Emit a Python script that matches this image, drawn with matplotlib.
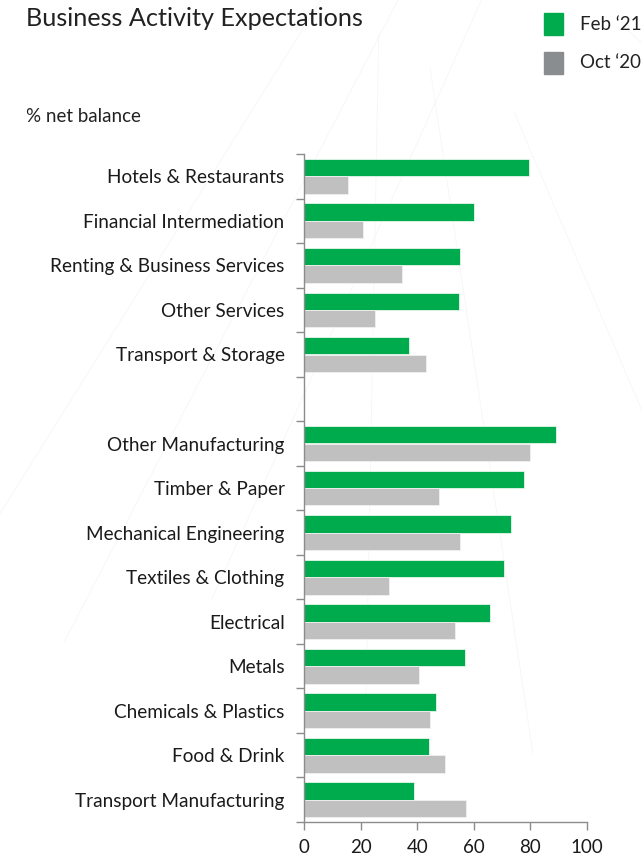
import numpy as np
import matplotlib
matplotlib.use("Agg")
import matplotlib.pyplot as plt

plt.rcParams['font.family'] = ['Lato', 'DejaVu Sans']

# categories top to bottom, None = blank gap row
categories = ['Hotels & Restaurants', 'Financial Intermediation',
              'Renting & Business Services', 'Other Services',
              'Transport & Storage', None,
              'Other Manufacturing', 'Timber & Paper', 'Mechanical Engineering',
              'Textiles & Clothing', 'Electrical', 'Metals',
              'Chemicals & Plastics', 'Food & Drink', 'Transport Manufacturing']
feb21 = [79.5, 60, 55, 54.8, 37.2, None,
         89.2, 77.7, 73.3, 70.6, 65.6, 57, 46.6, 44, 39]
oct20 = [15.5, 20.7, 34.8, 25, 43, None,
         80, 47.8, 55.3, 30, 53.5, 40.5, 44.5, 50, 57.4]

green = '#00ab4e'
grey_bar = '#c0c0c0'
grey_leg = '#8a8d90'
axcol = '#8c8c8c'

fig = plt.figure(figsize=(6.42, 8.56), dpi=100)

# faint decorative background lines
bg = fig.add_axes([0, 0, 1, 1], zorder=-1)
bg.set_xlim(0, 1)
bg.set_ylim(0, 1)
bg.axis('off')
for (xa, ya, xb, yb) in [(0.0, 0.40, 0.50, 1.0), (0.10, 0.25, 0.62, 1.0),
                         (0.33, 0.30, 0.75, 1.0), (0.57, 0.18, 0.59, 0.96),
                         (0.67, 0.92, 0.83, 0.12), (0.80, 0.87, 1.0, 0.52),
                         (0.97, 0.97, 1.0, 0.95)]:
    bg.plot([xa, xb], [ya, yb], color='#f6f6f6', lw=0.6)

ax = fig.add_axes([0.4735, 0.0397, 0.4408, 0.7803])
rows = np.arange(len(categories)) + 0.5
h = 0.39
for i, c in enumerate(categories):
    if c is None:
        continue
    ax.barh(rows[i] - 0.196, feb21[i], height=h, color=green,
            edgecolor='#e6f5ec', linewidth=0.6)
    ax.barh(rows[i] + 0.196, oct20[i], height=h, color=grey_bar,
            edgecolor='#f0f0f0', linewidth=0.6)

ax.set_ylim(len(categories), 0)
ax.set_xlim(0, 100)
ax.set_yticks([r for r, c in zip(rows, categories) if c is not None])
ax.set_yticklabels([c for c in categories if c is not None], fontsize=13.7, color='#1a1a1a')
ax.set_yticks(np.arange(len(categories) + 1), minor=True)
ax.tick_params(axis='y', which='major', length=0, pad=14)
ax.tick_params(axis='y', which='minor', length=6, color=axcol, width=1)
ax.set_xticks(np.arange(0, 101, 20))
ax.tick_params(axis='x', length=6, color=axcol, width=1, labelsize=13.5,
               labelcolor='#1a1a1a', pad=6)
for s in ['top', 'right']:
    ax.spines[s].set_visible(False)
for s in ['left', 'bottom']:
    ax.spines[s].set_color(axcol)
    ax.spines[s].set_linewidth(1)
ax.set_facecolor('none')

fig.text(26 / 642, 1 - 18 / 856, 'Business Activity Expectations', fontsize=18.2,
         color='#222222', va='center', ha='left')
fig.text(26 / 642, 1 - 116 / 856, '% net balance', fontsize=13.5,
         color='#222222', va='center', ha='left')

# legend
for yc, col, lab in [(24, green, 'Feb \u201821'), (63, grey_leg, 'Oct \u201820')]:
    fig.patches.append(plt.Rectangle((544 / 642, 1 - (yc + 11) / 856), 19 / 642, 22 / 856,
                                     transform=fig.transFigure, color=col))
    fig.text(580 / 642, 1 - yc / 856, lab, fontsize=13.5, color='#222222',
             va='center', ha='left')

fig.savefig('out.png', dpi=100)
